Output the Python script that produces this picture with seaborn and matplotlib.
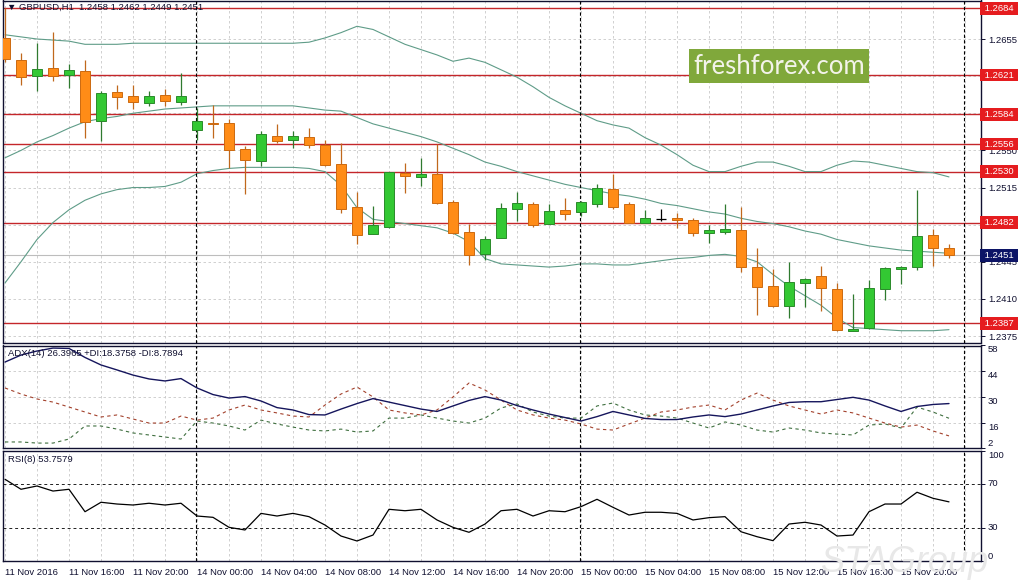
import numpy as np
import matplotlib
matplotlib.use('Agg')
import matplotlib.pyplot as plt
import seaborn as sns

# GBPUSD H1, one value per bar (11 Nov 12:00 .. 15 Nov 23:00)
opens = [1.2656, 1.2635, 1.2620, 1.2628, 1.2621, 1.2625, 1.2578, 1.2605, 1.2601, 1.2595,
         1.2602, 1.2596, 1.2569, 1.2576, 1.2576, 1.2551, 1.2540, 1.2564, 1.2560, 1.2563,
         1.2555, 1.2537, 1.2497, 1.2471, 1.2478, 1.2529, 1.2525, 1.2528, 1.2501, 1.2473,
         1.2452, 1.2467, 1.2495, 1.2499, 1.2481, 1.2494, 1.2492, 1.2499, 1.2514, 1.2499,
         1.2482, 1.2485, 1.2486, 1.2484, 1.2472, 1.2473, 1.2475, 1.2440, 1.2422, 1.2403,
         1.2425, 1.2432, 1.2419, 1.2380, 1.2383, 1.2419, 1.2438, 1.2440, 1.2470, 1.2458]
highs = [1.2684, 1.2642, 1.2651, 1.2662, 1.2631, 1.2635, 1.2606, 1.2612, 1.2612, 1.2606,
         1.2608, 1.2623, 1.2590, 1.2593, 1.2580, 1.2554, 1.2568, 1.2575, 1.2568, 1.2571,
         1.2560, 1.2557, 1.2511, 1.2498, 1.2530, 1.2538, 1.2543, 1.2556, 1.2503, 1.2481,
         1.2469, 1.2500, 1.2511, 1.2501, 1.2499, 1.2505, 1.2502, 1.2518, 1.2528, 1.2501,
         1.2494, 1.2495, 1.2491, 1.2486, 1.2480, 1.2499, 1.2497, 1.2458, 1.2438, 1.2445,
         1.2430, 1.2441, 1.2425, 1.2415, 1.2428, 1.2440, 1.2441, 1.2513, 1.2476, 1.2462]
lows = [1.2633, 1.2612, 1.2606, 1.2615, 1.2609, 1.2562, 1.2559, 1.2589, 1.2589, 1.2592,
        1.2592, 1.2593, 1.2560, 1.2562, 1.2533, 1.2509, 1.2535, 1.2557, 1.2552, 1.2552,
        1.2535, 1.2491, 1.2462, 1.2471, 1.2477, 1.2510, 1.2516, 1.2499, 1.2471, 1.2442,
        1.2447, 1.2467, 1.2483, 1.2478, 1.2481, 1.2484, 1.2488, 1.2497, 1.2495, 1.2482,
        1.2482, 1.2483, 1.2477, 1.2469, 1.2463, 1.2471, 1.2435, 1.2395, 1.2402, 1.2392,
        1.2402, 1.2399, 1.2380, 1.2380, 1.2382, 1.2409, 1.2424, 1.2437, 1.2441, 1.2449]
closes = [1.2636, 1.2619, 1.2627, 1.2620, 1.2626, 1.2577, 1.2604, 1.2600, 1.2596, 1.2601,
          1.2597, 1.2601, 1.2578, 1.2575, 1.2550, 1.2541, 1.2565, 1.2559, 1.2564, 1.2555,
          1.2536, 1.2495, 1.2470, 1.2480, 1.2530, 1.2526, 1.2528, 1.2500, 1.2472, 1.2451,
          1.2466, 1.2496, 1.2500, 1.2480, 1.2493, 1.2490, 1.2501, 1.2515, 1.2497, 1.2482,
          1.2486, 1.2485, 1.2484, 1.2472, 1.2475, 1.2476, 1.2440, 1.2421, 1.2403, 1.2426,
          1.2429, 1.2420, 1.2381, 1.2382, 1.2420, 1.2439, 1.2440, 1.2469, 1.2458, 1.2451]

bb_upper = [1.2659, 1.2657, 1.2655, 1.2654, 1.2653, 1.2650, 1.2650, 1.2650, 1.2651, 1.2651,
            1.2651, 1.2651, 1.2651, 1.2651, 1.2651, 1.2651, 1.2651, 1.2651, 1.2651, 1.2652,
            1.2656, 1.2661, 1.2667, 1.2664, 1.2657, 1.2650, 1.2645, 1.2640, 1.2634, 1.2637,
            1.2633, 1.2626, 1.2619, 1.2610, 1.2600, 1.2592, 1.2585, 1.2578, 1.2574, 1.2571,
            1.2562, 1.2555, 1.2546, 1.2536, 1.2530, 1.2530, 1.2535, 1.2539, 1.2539, 1.2535,
            1.2530, 1.2530, 1.2536, 1.2540, 1.2539, 1.2536, 1.2533, 1.2530, 1.2529, 1.2525]
bb_middle = [1.2543, 1.2550, 1.2558, 1.2564, 1.2571, 1.2577, 1.2580, 1.2582, 1.2585, 1.2587,
             1.2589, 1.2590, 1.2591, 1.2592, 1.2592, 1.2592, 1.2592, 1.2592, 1.2592, 1.2590,
             1.2588, 1.2587, 1.2581, 1.2575, 1.2571, 1.2567, 1.2563, 1.2558, 1.2552, 1.2546,
             1.2539, 1.2535, 1.2530, 1.2526, 1.2522, 1.2518, 1.2515, 1.2512, 1.2509, 1.2507,
             1.2504, 1.2500, 1.2498, 1.2495, 1.2492, 1.2490, 1.2486, 1.2483, 1.2481, 1.2478,
             1.2474, 1.2471, 1.2466, 1.2463, 1.2460, 1.2458, 1.2456, 1.2455, 1.2454, 1.2453]
bb_lower = [1.2425, 1.2445, 1.2466, 1.2482, 1.2494, 1.2503, 1.2509, 1.2513, 1.2515, 1.2515,
            1.2516, 1.2520, 1.2528, 1.2531, 1.2533, 1.2534, 1.2534, 1.2534, 1.2534, 1.2533,
            1.2530, 1.2517, 1.2496, 1.2485, 1.2483, 1.2481, 1.2479, 1.2477, 1.2472, 1.2464,
            1.2448, 1.2443, 1.2442, 1.2441, 1.2440, 1.2441, 1.2443, 1.2443, 1.2442, 1.2442,
            1.2444, 1.2446, 1.2448, 1.2449, 1.2451, 1.2452, 1.2450, 1.2445, 1.2433, 1.2422,
            1.2413, 1.2404, 1.2392, 1.2383, 1.2382, 1.2381, 1.2380, 1.2380, 1.2380, 1.2381]

adx = [49.0, 52.8, 55.0, 56.6, 56.4, 51.5, 47.4, 44.7, 41.9, 39.8,
       38.7, 40.0, 34.9, 31.3, 29.4, 30.2, 27.8, 24.2, 22.9, 20.4,
       20.2, 23.4, 26.4, 29.1, 27.2, 25.3, 23.4, 22.1, 25.1, 28.1,
       30.2, 28.3, 25.3, 22.9, 20.7, 18.8, 16.9, 19.3, 22.1, 20.2,
       18.3, 17.7, 17.7, 19.1, 20.2, 19.3, 20.7, 22.9, 25.1, 27.0,
       27.4, 27.4, 28.6, 29.8, 28.3, 25.1, 22.1, 24.8, 25.9, 26.4]
plus_di = [5.5, 5.5, 4.9, 4.9, 7.1, 14.2, 14.2, 12.5, 10.4, 9.3,
           8.2, 7.1, 16.9, 15.8, 14.2, 12.0, 17.4, 15.3, 13.6, 12.0,
           11.5, 12.5, 10.9, 11.5, 18.5, 18.5, 20.2, 18.5, 16.9, 15.8,
           18.5, 24.0, 26.2, 21.8, 19.6, 18.5, 18.5, 25.1, 26.7, 22.9,
           20.2, 19.6, 18.5, 15.8, 13.1, 16.4, 14.7, 12.0, 10.9, 13.1,
           12.0, 10.4, 9.8, 9.3, 14.7, 15.3, 13.1, 24.5, 21.8, 18.4]
minus_di = [34.9, 31.6, 28.9, 27.2, 24.5, 21.8, 19.1, 20.2, 18.0, 15.8,
            15.8, 19.6, 17.4, 18.5, 22.9, 25.6, 22.9, 21.3, 19.6, 19.1,
            25.6, 31.6, 35.4, 30.0, 22.9, 21.3, 20.2, 22.9, 30.0, 37.6,
            33.8, 28.3, 22.9, 20.2, 18.5, 17.4, 15.3, 12.5, 12.0, 15.3,
            18.5, 21.8, 22.9, 24.5, 25.6, 22.9, 28.3, 32.1, 28.3, 25.1,
            22.9, 20.7, 22.9, 21.3, 18.5, 15.8, 13.6, 14.7, 11.5, 8.8]
rsi = [74.3, 65.2, 68.2, 63.6, 65.2, 44.8, 53.4, 51.8, 50.9, 52.5,
       50.9, 52.5, 40.9, 39.7, 30.6, 28.2, 43.3, 40.9, 43.3, 40.3,
       32.7, 22.7, 18.2, 23.6, 47.0, 45.7, 47.0, 37.3, 30.6, 26.1,
       33.6, 45.7, 47.0, 40.9, 45.7, 44.8, 49.4, 56.1, 48.8, 41.8,
       44.3, 44.3, 43.3, 37.3, 39.4, 40.3, 26.6, 22.1, 18.5, 33.6,
       35.2, 32.7, 22.7, 23.6, 44.8, 51.8, 51.8, 62.5, 57.0, 53.76]

levels = [1.2684, 1.2621, 1.2584, 1.2556, 1.2530, 1.2482, 1.2387]
last_price = 1.2451
price_ticks = [1.2375, 1.2410, 1.2445, 1.2480, 1.2515, 1.2550, 1.2585, 1.2620, 1.2655]
hidden_ticks = [1.2480, 1.2585, 1.2620]   # covered by the level boxes in the original
adx_ticks = [2, 16, 30, 44, 58]
rsi_ticks = [0, 30, 70, 100]
time_labels = ['11 Nov 2016', '11 Nov 16:00', '11 Nov 20:00', '14 Nov 00:00', '14 Nov 04:00',
               '14 Nov 08:00', '14 Nov 12:00', '14 Nov 16:00', '14 Nov 20:00', '15 Nov 00:00',
               '15 Nov 04:00', '15 Nov 08:00', '15 Nov 12:00', '15 Nov 16:00', '15 Nov 20:00']
day_breaks = [12, 36, 60]

sns.set_theme(style='white')
plt.rcParams['font.family'] = ['Liberation Sans', 'DejaVu Sans']

W, H = 1023, 581
fig = plt.figure(figsize=(W / 100, H / 100), dpi=100)
fig.patch.set_facecolor('white')

def px_axes(top, bottom, left=3, right=981):
    return fig.add_axes([left / W, 1 - bottom / H, (right - left) / W, (bottom - top) / H])

ax1 = px_axes(0.5, 342.5)
ax2 = px_axes(345.5, 448.4)
ax3 = px_axes(451, 561)

bars = np.arange(len(opens))
o = np.array(opens); h = np.array(highs); l = np.array(lows); c = np.array(closes)

txt = '#101030'
grid_kw = dict(color='#c9c9c9', linestyle=(0, (3, 3)), linewidth=0.6)
fs = 6.8

for ax in (ax1, ax2, ax3):
    ax.set_facecolor('white')
    ax.set_xlim(-0.125, 61.0)
    ax.set_xticks(np.arange(0, 60, 4))
    ax.set_xticks(np.arange(0, 62, 2), minor=True)
    ax.grid(False)
    ax.xaxis.grid(True, which='both', **grid_kw)
    ax.set_axisbelow(True)
    for s in ax.spines.values():
        s.set_visible(True)
        s.set_color(txt)
        s.set_linewidth(1.0)
    ax.yaxis.tick_right()
    ax.tick_params(axis='y', direction='out', length=3, width=0.7, pad=2,
                   labelsize=fs, colors=txt, right=True, left=False)
    ax.tick_params(axis='x', which='both', length=0, labelbottom=False)
    for b in day_breaks:
        ax.axvline(b - 0.06, color='black', linestyle=(0, (3, 2)), linewidth=0.8, zorder=4)

# ---- price panel ----
ax1.set_ylim(1.23689, 1.26913)
ax1.set_yticks(price_ticks)
ax1.set_yticklabels(['' if t in hidden_ticks else f'{t:.4f}' for t in price_ticks])
ax1.yaxis.grid(True, **grid_kw)

ax1.axhline(last_price, color='#bdbdbd', linewidth=0.8, zorder=1)
for lv in levels:
    ax1.axhline(lv, color='#c4262a', linewidth=1.0, zorder=2)

for series in (bb_upper, bb_middle, bb_lower):
    sns.lineplot(x=bars, y=series, ax=ax1, color='#5f9c88', linewidth=0.8, zorder=3)

up = c > o
down = c < o
doji = c == o
body_w = 0.64
ax1.vlines(bars[up], l[up], h[up], color='#2f7a2f', linewidth=0.9, zorder=4)
ax1.vlines(bars[down], l[down], h[down], color='#c0681c', linewidth=0.9, zorder=4)
ax1.vlines(bars[doji], l[doji], h[doji], color='black', linewidth=0.9, zorder=4)
ax1.bar(bars[up], c[up] - o[up], bottom=o[up], width=body_w, color='#33c833',
        edgecolor='#2a8a2a', linewidth=0.7, zorder=5)
ax1.bar(bars[down], o[down] - c[down], bottom=c[down], width=body_w, color='#ff8c17',
        edgecolor='#cc6a10', linewidth=0.7, zorder=5)
ax1.hlines(c[doji], bars[doji] - body_w / 2, bars[doji] + body_w / 2, color='black',
           linewidth=0.9, zorder=5)

for lv in levels:
    ax1.text(1.0008, lv, f' {lv:.4f} ', transform=ax1.get_yaxis_transform(), ha='left',
             va='center', color='white', fontsize=fs, zorder=10, clip_on=False,
             bbox=dict(boxstyle='square,pad=0.2', fc='#e51c1f', ec='none'))
ax1.text(1.0008, last_price, f' {last_price:.4f} ', transform=ax1.get_yaxis_transform(),
         ha='left', va='center', color='white', fontsize=fs, zorder=10, clip_on=False,
         bbox=dict(boxstyle='square,pad=0.2', fc='#0c1466', ec='none'))
ax1.set_xlabel(''); ax1.set_ylabel('')

# ---- ADX panel ----
sns.lineplot(x=bars, y=adx, ax=ax2, color='#15155c', linewidth=1.0, zorder=5)
sns.lineplot(x=bars, y=plus_di, ax=ax2, color='#3f6f3f', linewidth=0.8,
             linestyle=(0, (3, 3)), zorder=4)
sns.lineplot(x=bars, y=minus_di, ax=ax2, color='#a3412c', linewidth=0.8,
             linestyle=(0, (3, 3)), zorder=4)
ax2.set_ylim(2, 58)
ax2.set_yticks(adx_ticks)
ax2.set_yticklabels([str(t) for t in adx_ticks])
for t, lbl in zip(adx_ticks, ax2.get_yticklabels()):
    lbl.set_verticalalignment('bottom' if t == 2 else 'top')
for t in adx_ticks[1:-1]:
    ax2.axhline(t, **grid_kw, zorder=0)
ax2.set_xlabel(''); ax2.set_ylabel('')

# ---- RSI panel ----
sns.lineplot(x=bars, y=rsi, ax=ax3, color='black', linewidth=0.9, zorder=5)
ax3.set_ylim(0, 100)
ax3.set_yticks(rsi_ticks)
ax3.set_yticklabels([str(t) for t in rsi_ticks])
for t, lbl in zip(rsi_ticks, ax3.get_yticklabels()):
    lbl.set_verticalalignment({0: 'bottom', 100: 'top'}.get(t, 'center'))
for t in (30, 70):
    ax3.axhline(t, color='#202020', linestyle=(0, (3, 3)), linewidth=0.7, zorder=3)
ax3.set_xticklabels(time_labels)
ax3.tick_params(axis='x', which='major', length=3, width=0.7, direction='out', pad=2,
                labelbottom=True, labelsize=fs, colors=txt)
for lbl in ax3.get_xticklabels():
    lbl.set_horizontalalignment('left')
ax3.set_xlabel(''); ax3.set_ylabel('')

# ---- captions ----
fig.text(7 / W, 1 - 7 / H, '\u25bc GBPUSD,H1  1.2458 1.2462 1.2449 1.2451', fontsize=fs,
         color=txt, va='center', ha='left')
fig.text(8 / W, 1 - 354 / H, 'ADX(14) 26.3965 +DI:18.3758 -DI:8.7894', fontsize=fs,
         color=txt, va='center', ha='left')
fig.text(8 / W, 1 - 459 / H, 'RSI(8) 53.7579', fontsize=fs, color=txt, va='center', ha='left')

fig.text(779 / W, 1 - 66 / H, 'freshforex.com', fontsize=18.5, family='Lato', color='#f3f3ea',
         ha='center', va='center', zorder=20,
         bbox=dict(boxstyle='square,pad=0.18', fc='#80a83b', ec='none'))
fig.text(905 / W, 1 - 562 / H, 'STAGroup', fontsize=26, style='italic', color='#e8e8e8',
         ha='center', va='center', zorder=20)

fig.savefig('out.png', dpi=100)
